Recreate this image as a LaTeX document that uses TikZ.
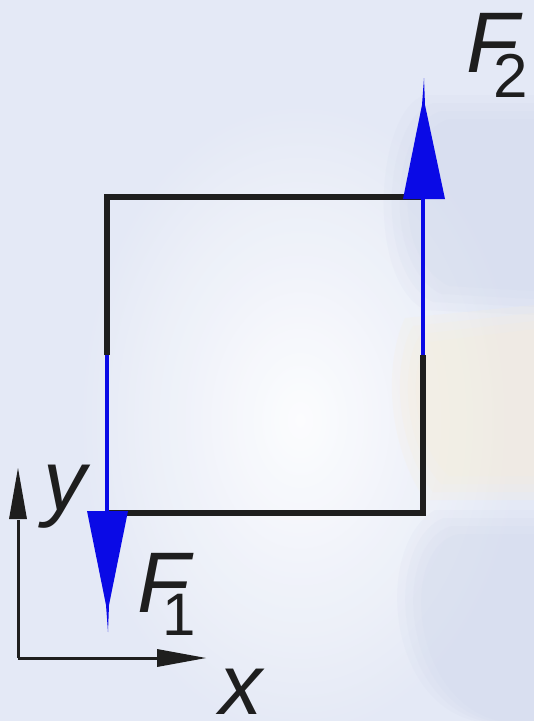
\documentclass[tikz,border=0pt]{standalone}
\usepackage{fontspec}
\setmainfont{Liberation Sans}
\definecolor{bgc}{HTML}{E4E9F6}
\definecolor{ink}{HTML}{1E1E1E}
\definecolor{fblue}{HTML}{0A0AE6}
\definecolor{warm}{HTML}{F7EEDC}
\definecolor{blob}{HTML}{CDD5EA}
\begin{document}
\begin{tikzpicture}[x=1pt,y=-1pt,
  frame/.style={draw=ink,line width=5.5pt,line cap=butt,line join=miter},
  force/.style={draw=fblue,line width=4.5pt},
  head/.style={fill=fblue,draw=none},
  axis/.style={draw=ink,line width=3pt},
  axhead/.style={fill=ink,draw=none},
  soft/.style={opacity=0.12},
  lbl/.style={inner sep=0pt,text=ink,font=\fontsize{86}{86}\selectfont\itshape}]
\useasboundingbox (0,0) rectangle (534,721);
% background
\fill[bgc] (0,0) rectangle (534,721);
\shade[inner color=white,outer color=bgc,opacity=0.9] (300,420) ellipse (230 and 330);
% soft blurred shapes on the right
\foreach \d in {0,8,16,24}{
  \fill[blob,soft] (534,95+\d) -- (425+\d,95+\d) .. controls (375+\d,110+\d) and (365+\d,280-\d) .. (425+\d,310-\d) -- (534,315-\d) -- cycle;
  \fill[warm,soft,opacity=0.22] (405+\d,318+\d) -- (534,305+\d) -- (534,500-\d) -- (425+\d,500-\d) .. controls (385+\d,440) and (385+\d,360) .. (405+\d,318+\d) -- cycle;
  \fill[blob,soft] (534,510+\d) -- (435+\d,510+\d) .. controls (375+\d,545) and (385+\d,700) .. (475+\d,721) -- (534,721) -- cycle;
}
% named points
\coordinate (tl) at (107,197);
\coordinate (tr) at (423,197);
\coordinate (br) at (423,513);
\coordinate (bl) at (107,513);
\coordinate (lm) at (107,355);
\coordinate (rm) at (423,355);
\coordinate (o) at (18,658);
\coordinate (ytip) at (18,468);
\coordinate (xtip) at (206,658);
% frame
\draw[frame] (lm) -- (tl) -- (tr);
\draw[frame] (rm) -- (br) -- (bl);
% forces
\draw[force] (lm) -- (bl);
\draw[force] (rm) -- (tr);
\fill[head] (87,511) -- (128,511) -- (109,605) -- (108,632) -- (106,605) -- cycle;
\fill[head] (403,199) -- (445,199) -- (425,105) -- (424,78) -- (422,105) -- cycle;
% axes
\draw[axis] (o) -- (ytip |- 0,520);
\draw[axis] (o) -- (xtip -| 160,0);
\fill[axhead] (9,519) -- (27,519) -- (18,468) -- cycle;
\fill[axhead] (157,649) -- (157,667) -- (206,658) -- cycle;
% labels
\node[lbl,anchor=base west] (f2) at (466,72) {F\kern-25pt{\fontsize{62}{62}\selectfont\upshape\raisebox{-25pt}{2}}};
\node[lbl,anchor=base west] (f1) at (137,612) {F\kern-27pt{\fontsize{60}{60}\selectfont\upshape\raisebox{-23pt}{1}}};
\node[lbl,anchor=base west] (ylab) at (43,510) {y};
\node[lbl,anchor=base west] (xlab) at (219,714) {x};
\end{tikzpicture}
\end{document}
